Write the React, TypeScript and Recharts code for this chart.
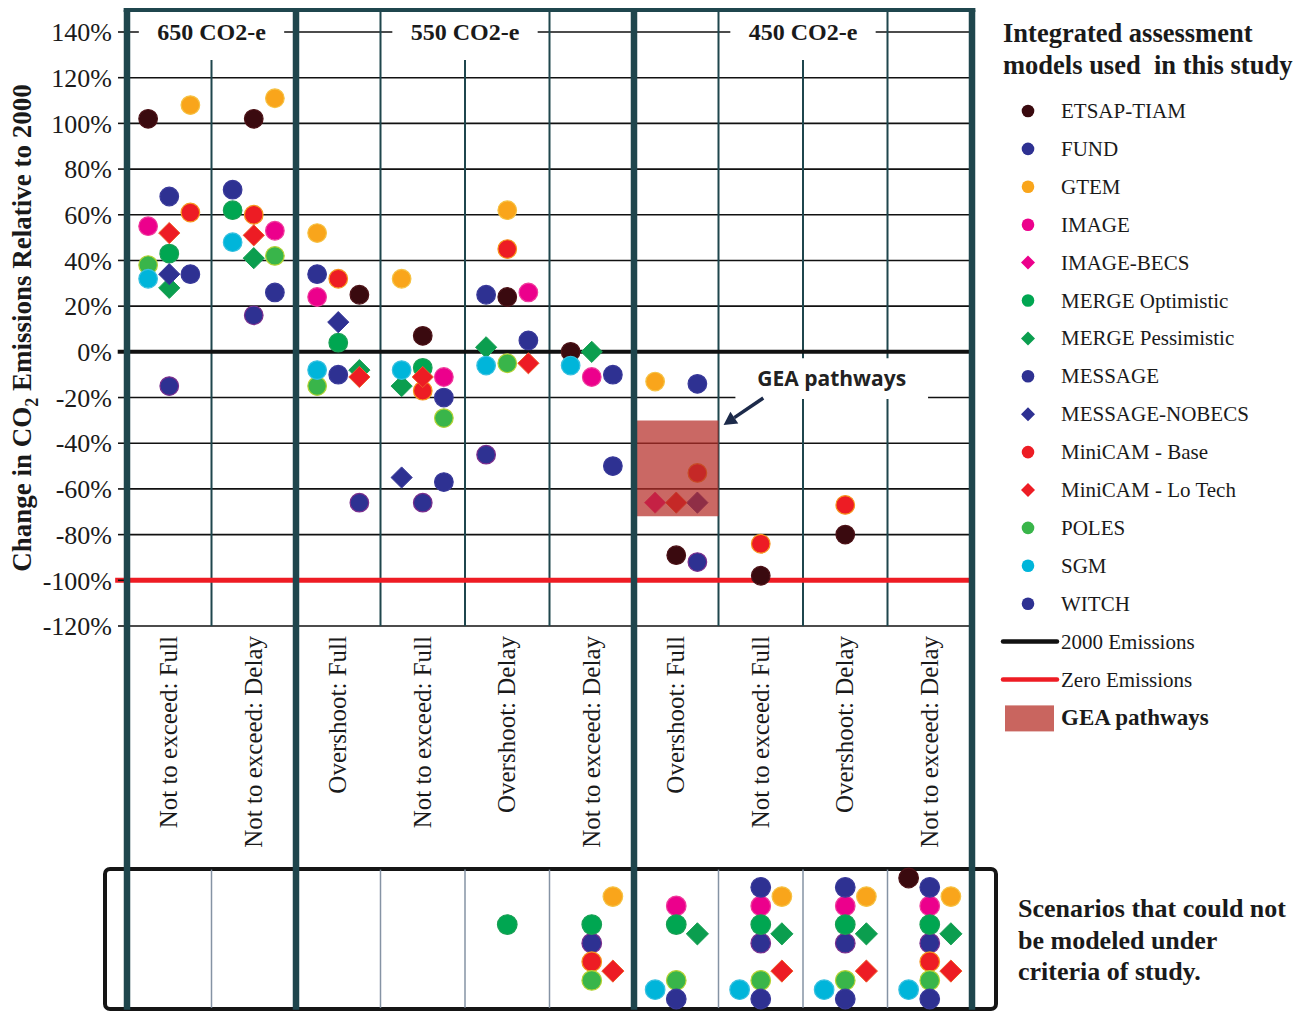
import React from "react";
import {
  CartesianGrid,
  Legend,
  ReferenceArea,
  ReferenceLine,
  Scatter,
  ScatterChart,
  XAxis,
  YAxis,
} from "recharts";

const W = 1307;
const H = 1013;
const SERIF = '"Liberation Serif", "Times New Roman", serif';
const SANS = '"Open Sans", "Noto Sans", sans-serif';
const TEAL = "#1f464d";

// scenario columns, left to right
const SCENARIOS = [
  "Not to exceed: Full",
  "Not to exceed: Delay",
  "Overshoot: Full",
  "Not to exceed: Full",
  "Overshoot: Delay",
  "Not to exceed: Delay",
  "Overshoot: Full",
  "Not to exceed: Full",
  "Overshoot: Delay",
  "Not to exceed: Delay",
];
const TARGETS = ["650 CO2-e", "550 CO2-e", "450 CO2-e"];
const TARGET_SPANS = [
  [0, 2],
  [2, 6],
  [6, 10],
];
const Y_TICKS = [-120, -100, -80, -60, -40, -20, 0, 20, 40, 60, 80, 100, 120, 140];
const GEA_COLUMN = 6;
const GEA_RANGE = [-72, -30];

// [scenario, position in column (Left / Mid / Right), % change vs 2000]
type Slot = "L" | "M" | "R";
type Pt = [number, Slot, number];

const ETSAP_TIAM: Pt[] = [[0, "L", 102], [1, "M", 102], [2, "R", 25], [3, "M", 7], [4, "M", 24], [5, "L", 0], [6, "M", -89], [7, "M", -98], [8, "M", -80]];
const FUND: Pt[] = [[0, "M", -15], [1, "M", 16], [2, "R", -66], [3, "M", -66], [4, "L", -45], [6, "R", -92]];
const GTEM: Pt[] = [[0, "R", 108], [1, "R", 111], [2, "L", 52], [3, "L", 32], [4, "M", 62], [6, "L", -13]];
const IMAGE: Pt[] = [[0, "L", 55], [1, "R", 53], [2, "L", 24], [3, "R", -11], [4, "R", 26], [5, "M", -11]];
const IMAGE_BECS: Pt[] = [[6, "L", -66]];
const MERGE_OPT: Pt[] = [[0, "M", 43], [1, "L", 62], [2, "M", 4], [3, "M", -7]];
const MERGE_PESS: Pt[] = [[0, "M", 28], [1, "M", 41], [2, "R", -8], [3, "L", -15], [4, "L", 2], [5, "M", 0]];
const MESSAGE: Pt[] = [[0, "M", 68], [1, "L", 71], [2, "L", 34], [3, "R", -57], [4, "L", 25], [5, "R", -50], [6, "R", -14]];
const MESSAGE_NOBECS: Pt[] = [[0, "M", 34], [2, "M", 13], [3, "L", -55], [6, "R", -66]];
const MINICAM_BASE: Pt[] = [[0, "R", 61], [1, "M", 60], [2, "M", 32], [3, "M", -17], [4, "M", 45], [6, "R", -53], [7, "M", -84], [8, "M", -67]];
const MINICAM_LOTECH: Pt[] = [[0, "M", 52], [1, "M", 51], [2, "R", -11], [3, "M", -11], [4, "R", -5], [6, "M", -66]];
const POLES: Pt[] = [[0, "L", 38], [1, "R", 42], [2, "L", -15], [3, "R", -29], [4, "M", -5]];
const SGM: Pt[] = [[0, "L", 32], [1, "L", 48], [2, "L", -8], [3, "L", -8], [4, "L", -6], [5, "L", -6]];
const WITCH: Pt[] = [[0, "R", 34], [1, "R", 26], [2, "M", -10], [3, "R", -20], [4, "R", 5], [5, "R", -10]];

// scenarios each model could not reach (bottom box)
const NM_ETSAP = [9];
const NM_FUND = [5, 7, 8, 9];
const NM_GTEM = [5, 7, 8, 9];
const NM_IMAGE = [6, 7, 8, 9];
const NM_MERGE_OPT = [4, 5, 6, 7, 8, 9];
const NM_MERGE_PESS = [6, 7, 8, 9];
const NM_MESSAGE = [7, 8, 9];
const NM_MINICAM_BASE = [5, 9];
const NM_MINICAM_LOTECH = [5, 7, 8, 9];
const NM_POLES = [5, 6, 7, 8, 9];
const NM_SGM = [6, 7, 8, 9];
const NM_WITCH = [6, 7, 8, 9];

const SLOT: Record<Slot, number> = { L: 0.25, M: 0.5, R: 0.75 };

type Model = {
  name: string;
  pts: Pt[];
  miss: number[];
  fill: string;
  stroke: string;
  diamond?: boolean;
  row: number; // stack level in bottom box
  slot: Slot;
};

const MODELS: Model[] = [
  { name: "ETSAP-TIAM", pts: ETSAP_TIAM, miss: NM_ETSAP, fill: "#3a0a0f", stroke: "#4d1318", row: 0, slot: "L" },
  { name: "FUND", pts: FUND, miss: NM_FUND, fill: "#2e3192", stroke: "#7b2f8e", row: 7, slot: "M" },
  { name: "GTEM", pts: GTEM, miss: NM_GTEM, fill: "#f9a51b", stroke: "#f6c244", row: 2, slot: "R" },
  { name: "IMAGE", pts: IMAGE, miss: NM_IMAGE, fill: "#ec008c", stroke: "#ef3c9c", row: 3, slot: "M" },
  { name: "IMAGE-BECS", pts: IMAGE_BECS, miss: [], fill: "#ec008c", stroke: "#ef3c9c", diamond: true, row: 3, slot: "M" },
  { name: "MERGE Optimistic", pts: MERGE_OPT, miss: NM_MERGE_OPT, fill: "#00a651", stroke: "#1aa055", row: 5, slot: "M" },
  { name: "MERGE Pessimistic", pts: MERGE_PESS, miss: NM_MERGE_PESS, fill: "#0b9e4f", stroke: "#1aa055", diamond: true, row: 6, slot: "R" },
  { name: "MESSAGE", pts: MESSAGE, miss: NM_MESSAGE, fill: "#2e3192", stroke: "#3a3a9a", row: 1, slot: "M" },
  { name: "MESSAGE-NOBECS", pts: MESSAGE_NOBECS, miss: [], fill: "#2e3192", stroke: "#3a3a9a", diamond: true, row: 1, slot: "M" },
  { name: "MiniCAM - Base", pts: MINICAM_BASE, miss: NM_MINICAM_BASE, fill: "#ed1c24", stroke: "#f7941d", row: 9, slot: "M" },
  { name: "MiniCAM - Lo Tech", pts: MINICAM_LOTECH, miss: NM_MINICAM_LOTECH, fill: "#ed1c24", stroke: "#f05a28", diamond: true, row: 10, slot: "R" },
  { name: "POLES", pts: POLES, miss: NM_POLES, fill: "#39b54a", stroke: "#b5d334", row: 11, slot: "M" },
  { name: "SGM", pts: SGM, miss: NM_SGM, fill: "#00b5da", stroke: "#37c0e0", row: 12, slot: "L" },
  { name: "WITCH", pts: WITCH, miss: NM_WITCH, fill: "#2e3192", stroke: "#3a3a9a", row: 13, slot: "M" },
];

function markShape(m: Model, r: number) {
  return (p: any) => {
    const { cx, cy } = p;
    if (cx == null || cy == null) return <g />;
    if (m.diamond) {
      const d = r + 1.3;
      return (
        <polygon
          points={`${cx},${cy - d} ${cx + d},${cy} ${cx},${cy + d} ${cx - d},${cy}`}
          fill={m.fill}
          stroke={m.stroke}
          strokeWidth={1}
        />
      );
    }
    return <circle cx={cx} cy={cy} r={r} fill={m.fill} stroke={m.stroke} strokeWidth={1.2} />;
  };
}

function ScenarioTick(props: any) {
  const { x, y, payload } = props;
  const label = SCENARIOS[Math.floor(payload.value)];
  return (
    <text
      transform={`translate(${x + 8},${y}) rotate(-90)`}
      textAnchor="end"
      fontFamily={SERIF}
      fontSize={25}
      fill="#1a1a1a"
    >
      {label}
    </text>
  );
}

function YTitle(props: any) {
  const vb = props.viewBox || { y: 32, height: 594 };
  const cy = vb.y + vb.height / 2;
  return (
    <text
      transform={`translate(31,${cy - 1}) rotate(-90)`}
      textAnchor="middle"
      fontFamily={SERIF}
      fontWeight="bold"
      fontSize={27}
      fill="#1a1a1a"
    >
      Change in CO
      <tspan dy={7} fontSize={18}>
        2
      </tspan>
      <tspan dy={-7}> Emissions Relative to 2000</tspan>
    </text>
  );
}

function HeaderLabel(props: any) {
  const { viewBox, text } = props;
  if (!viewBox) return null;
  return (
    <text
      x={viewBox.x + viewBox.width / 2}
      y={viewBox.y + viewBox.height / 2 + 8}
      textAnchor="middle"
      fontFamily={SERIF}
      fontWeight="bold"
      fontSize={24}
      fill="#1a1a1a"
    >
      {text}
    </text>
  );
}

function NoteLabel(props: any) {
  const { viewBox } = props;
  if (!viewBox) return null;
  return (
    <text
      x={viewBox.x + viewBox.width / 2}
      y={viewBox.y + viewBox.height / 2 + 7}
      textAnchor="middle"
      fontFamily={SANS}
      fontWeight={700}
      fontSize={21}
      fill="#222"
    >
      GEA pathways
    </text>
  );
}

function ArrowShape(p: any) {
  const { x1, y1, x2, y2 } = p;
  const ang = Math.atan2(y2 - y1, x2 - x1);
  const L = 13;
  const hw = 7;
  const bx = x2 - L * Math.cos(ang);
  const by = y2 - L * Math.sin(ang);
  const px = -Math.sin(ang) * hw;
  const py = Math.cos(ang) * hw;
  return (
    <g>
      <line x1={x1} y1={y1} x2={bx} y2={by} stroke="#1c2a4a" strokeWidth={3.5} />
      <polygon points={`${x2},${y2} ${bx + px},${by + py} ${bx - px},${by - py}`} fill="#1c2a4a" />
    </g>
  );
}

function LegendBox() {
  const rowY = (i: number) => 111 + i * 37.9;
  const n = MODELS.length;
  return (
    <svg width={307} height={740} style={{ display: "block" }}>
      <text x={3} y={42} fontFamily={SERIF} fontWeight="bold" fontSize={26.5} fill="#1a1a1a">
        Integrated assessment
      </text>
      <text x={3} y={74} fontFamily={SERIF} fontWeight="bold" fontSize={26.5} fill="#1a1a1a" style={{ whiteSpace: "pre" }}>
        models used  in this study
      </text>
      {MODELS.map((m, i) => {
        const y = rowY(i);
        return (
          <g key={m.name}>
            {m.diamond ? (
              <polygon points={`28,${y - 7} 35,${y} 28,${y + 7} 21,${y}`} fill={m.fill} />
            ) : (
              <circle cx={28} cy={y} r={6.3} fill={m.fill} />
            )}
            <text x={61} y={y + 7} fontFamily={SERIF} fontSize={21} fill="#1a1a1a">
              {m.name}
            </text>
          </g>
        );
      })}
      <line x1={3} x2={57} y1={rowY(n)} y2={rowY(n)} stroke="#111" strokeWidth={4.5} strokeLinecap="round" />
      <text x={61} y={rowY(n) + 7} fontFamily={SERIF} fontSize={21} fill="#1a1a1a">
        2000 Emissions
      </text>
      <line x1={3} x2={57} y1={rowY(n + 1)} y2={rowY(n + 1)} stroke="#ee1c24" strokeWidth={4.5} strokeLinecap="round" />
      <text x={61} y={rowY(n + 1) + 7} fontFamily={SERIF} fontSize={21} fill="#1a1a1a">
        Zero Emissions
      </text>
      <rect x={5} y={rowY(n + 2) - 12} width={49} height={26} fill="#c9655f" />
      <text x={61} y={rowY(n + 2) + 8} fontFamily={SERIF} fontWeight="bold" fontSize={23} fill="#1a1a1a">
        GEA pathways
      </text>
    </svg>
  );
}

const TOP_EDGE = 149.6; // frame top, in % units
const BOTTOM_EDGE = -288; // frame bottom, in % units
const HEADER_TOP = 127.7; // where mid-group rules begin

export default function App() {
  const scenarioTicks = SCENARIOS.map((_, i) => i + 0.5);
  const groupEdges = [0, 2, 6, 10];
  const midRules = TARGET_SPANS.map(([a, b]) => (a + b) / 2);
  const innerRules = [1, 3, 4, 5, 7, 8, 9].filter((x) => !midRules.includes(x));

  return (
    <div
      style={{
        position: "absolute",
        left: 0,
        top: 0,
        width: W,
        height: H,
        background: "#fff",
        overflow: "hidden",
      }}
    >
      <svg width={W} height={H} style={{ position: "absolute", left: 0, top: 0 }}>
        <rect x={105} y={869} width={891} height={140} rx={5} fill="none" stroke="#151515" strokeWidth={4} />
        {["Scenarios that could not", "be modeled under", "criteria of study."].map((t, i) => (
          <text key={t} x={1018} y={917 + i * 31.5} fontFamily={SERIF} fontWeight="bold" fontSize={26} fill="#1a1a1a">
            {t}
          </text>
        ))}
      </svg>

      {/* bottom box: scenarios that could not be modelled */}
      <div style={{ position: "absolute", left: 0, top: 0 }}>
        <ScatterChart width={W} height={H} margin={{ top: 878, right: 335, bottom: 14, left: 127 }}>
          <XAxis type="number" dataKey="x" domain={[0, 10]} hide />
          <YAxis type="number" dataKey="r" domain={[0, 13]} reversed hide />
          {[1, 3, 4, 5, 7, 8, 9].map((x) => (
            <ReferenceLine
              key={x}
              segment={[{ x, y: -0.9 }, { x, y: 13.95 }]}
              stroke="#8593a4"
              strokeWidth={1.5}
              ifOverflow="visible"
            />
          ))}
          {MODELS.filter((m) => m.miss.length > 0).map((m) => (
            <Scatter
              key={m.name}
              name={m.name}
              data={m.miss.map((c) => ({ x: c + SLOT[m.slot], r: m.row }))}
              shape={markShape(m, 9.8)}
              isAnimationActive={false}
            />
          ))}
        </ScatterChart>
      </div>

      {/* main panel */}
      <div style={{ position: "absolute", left: 0, top: 0 }}>
        <ScatterChart width={W} height={H} margin={{ top: 32, right: 335, bottom: 147, left: 0 }}>
          <CartesianGrid vertical={false} stroke="#111" strokeWidth={1.6} />
          <XAxis
            type="number"
            dataKey="x"
            domain={[0, 10]}
            ticks={scenarioTicks}
            interval={0}
            height={240}
            axisLine={false}
            tickLine={false}
            tickMargin={4}
            tick={<ScenarioTick />}
          />
          <YAxis
            type="number"
            dataKey="v"
            domain={[-120, 140]}
            ticks={Y_TICKS}
            interval={0}
            width={127}
            axisLine={false}
            tickSize={9}
            tickMargin={6}
            tickLine={{ stroke: "#111", strokeWidth: 1.6 }}
            tick={{ fontFamily: SERIF, fontSize: 26, fill: "#1a1a1a" }}
            tickFormatter={(v) => `${v}%`}
            label={<YTitle />}
          />

          {innerRules.map((x) => (
            <ReferenceLine
              key={`in${x}`}
              segment={[{ x, y: TOP_EDGE }, { x, y: -120 }]}
              stroke={TEAL}
              strokeWidth={2}
              ifOverflow="visible"
              zIndex={-50}
            />
          ))}
          {midRules.map((x) => (
            <ReferenceLine
              key={`mid${x}`}
              segment={[{ x, y: HEADER_TOP }, { x, y: -120 }]}
              stroke={TEAL}
              strokeWidth={2}
              ifOverflow="visible"
              zIndex={-50}
            />
          ))}

          <ReferenceLine
            segment={[{ x: -0.11, y: 0 }, { x: 10, y: 0 }]}
            stroke="#111"
            strokeWidth={4}
            ifOverflow="visible"
            zIndex={-40}
          />
          <ReferenceLine
            segment={[{ x: -0.14, y: -100 }, { x: 10, y: -100 }]}
            stroke="#ee1c24"
            strokeWidth={5}
            ifOverflow="visible"
            zIndex={-40}
          />

          {TARGETS.map((t, i) => {
            const mid = (TARGET_SPANS[i][0] + TARGET_SPANS[i][1]) / 2;
            return (
              <ReferenceArea
                key={t}
                x1={mid - 0.86}
                x2={mid + 0.86}
                y1={134.8}
                y2={145.2}
                fill="#fff"
                fillOpacity={1}
                stroke="none"
                ifOverflow="visible"
                zIndex={550}
                label={<HeaderLabel text={t} />}
              />
            );
          })}

          <ReferenceArea
            x1={7.2}
            x2={9.48}
            y1={-20.6}
            y2={-2.8}
            fill="#fff"
            fillOpacity={1}
            stroke="none"
            ifOverflow="visible"
            zIndex={550}
            label={<NoteLabel />}
          />

          {MODELS.map((m) => (
            <Scatter
              key={m.name}
              name={m.name}
              data={m.pts.map(([c, s, v]) => ({ x: c + SLOT[s], v }))}
              shape={markShape(m, 9.3)}
              isAnimationActive={false}
              zIndex={600}
            />
          ))}

          <ReferenceArea
            x1={GEA_COLUMN}
            x2={GEA_COLUMN + 1}
            y1={GEA_RANGE[0]}
            y2={GEA_RANGE[1]}
            fill="#b52e28"
            fillOpacity={0.72}
            stroke="none"
            zIndex={650}
          />
          <ReferenceLine
            segment={[{ x: 7.53, y: -20.2 }, { x: 7.06, y: -32 }]}
            shape={ArrowShape}
            ifOverflow="visible"
            zIndex={700}
          />

          <ReferenceLine
            segment={[{ x: -0.04, y: TOP_EDGE }, { x: 10.04, y: TOP_EDGE }]}
            stroke={TEAL}
            strokeWidth={4}
            ifOverflow="visible"
            zIndex={700}
          />
          {groupEdges.map((x) => (
            <ReferenceLine
              key={`edge${x}`}
              segment={[{ x, y: TOP_EDGE }, { x, y: BOTTOM_EDGE }]}
              stroke={TEAL}
              strokeWidth={6.5}
              ifOverflow="visible"
              zIndex={700}
            />
          ))}

          <Legend
            layout="horizontal"
            verticalAlign="middle"
            align="center"
            content={<LegendBox />}
            wrapperStyle={{ left: 1000, top: 0, width: 307, height: 740 }}
          />
        </ScatterChart>
      </div>
    </div>
  );
}
